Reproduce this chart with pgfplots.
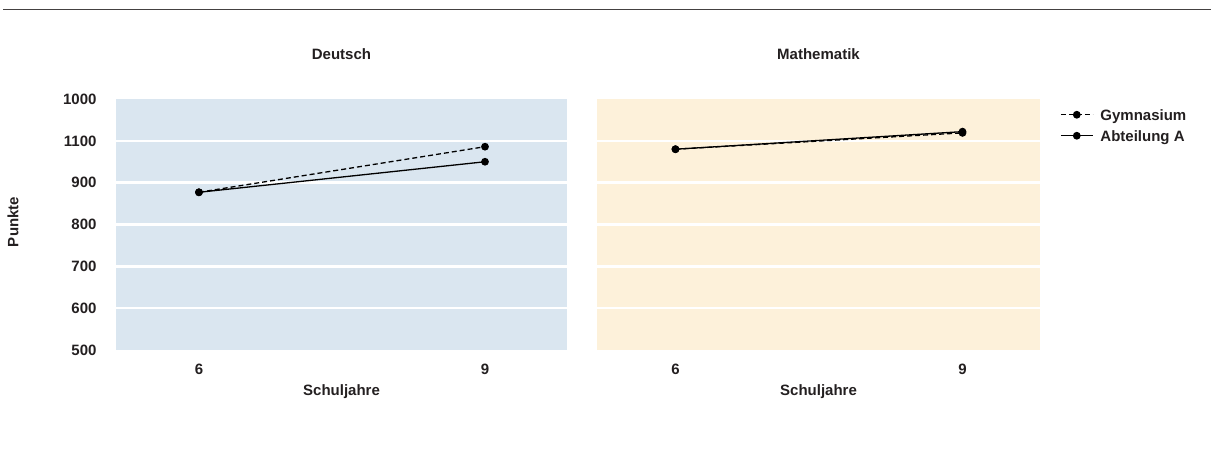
\documentclass[border=0pt]{standalone}
\usepackage{fontspec}
\setmainfont{Liberation Sans}
\usepackage{pgfplots}
\pgfplotsset{compat=1.18}
\definecolor{bgblue}{RGB}{218,230,240}
\definecolor{bgcream}{RGB}{253,241,218}
\definecolor{txt}{RGB}{35,31,32}
\newcommand{\lblfont}{\fontsize{15}{18}\selectfont\bfseries}
\pgfplotsset{
  panel/.style={
    scale only axis, height=251pt,
    axis background/.style={fill=#1},
    xmin=5.13, xmax=9.86, ymin=500, ymax=1100,
    xtick={6,9},
    ytick={500,600,700,800,900,1000,1100},
    yticklabels={500,600,700,800,900,1100,1000},
    extra y ticks={600,700,800,900,1000},
    extra y tick labels={},
    extra y tick style={ymajorgrids=true, major grid style={white, line width=2.6pt}},
    axis line style={draw=none},
    major tick length=0pt,
    /pgf/number format/assume math mode=true,
    tick label style={font=\lblfont, text=txt},
    xticklabel style={anchor=center, yshift=-19pt},
    yticklabel style={anchor=east, xshift=-16pt},
    xlabel={Schuljahre},
    xlabel style={font=\lblfont, text=txt, at={(axis description cs:0.5,0)}, anchor=center, yshift=-42pt},
    title style={font=\lblfont, text=txt, at={(axis description cs:0.5,1)}, anchor=center, yshift=39pt},
    gym/.style={line width=1.3pt, black, mark=*, mark size=3.2pt, mark options={solid}, dash pattern=on 5pt off 3pt},
    abt/.style={line width=1.3pt, black, solid, mark=*, mark size=3.2pt},
    legend image code/.code={\draw[mark repeat=2,mark phase=2,##1] plot coordinates {(0pt,5.5pt) (16pt,5.5pt) (32pt,5.5pt)};},
  }
}
\begin{document}
\begin{tikzpicture}[x=1pt,y=1pt]
\path[use as bounding box] (0,0) rectangle (1211,453);
\draw[line width=1.6pt, color=txt!85] (3,443.5) -- (1211,443.5);
\node[rotate=90, font=\lblfont, text=txt] at (13,231) {Punkte};
\begin{axis}[panel=bgblue, width=451pt, at={(116pt,103pt)}, anchor=south west, title={Deutsch}]
\addplot[gym] coordinates {(6,877) (9,986)};
\addplot[abt] coordinates {(6,877) (9,950)};
\end{axis}
\begin{axis}[panel=bgcream, width=443pt, at={(597pt,103pt)}, anchor=south west, title={Mathematik},
  xmin=5.18, xmax=9.81, yticklabels={},
  legend style={draw=none, fill=none, at={(axis description cs:1.045,0.958)}, anchor=north west, font=\lblfont, text=txt, inner sep=0pt, nodes={inner sep=0pt, text height=11pt, text depth=10pt}},
  legend cell align=left]
\addplot[gym] coordinates {(6,980) (9,1019)};
\addlegendentry{\hspace{7pt}Gymnasium}
\addplot[abt] coordinates {(6,980) (9,1022)};
\addlegendentry{\hspace{7pt}Abteilung A}
\end{axis}
\end{tikzpicture}
\end{document}
